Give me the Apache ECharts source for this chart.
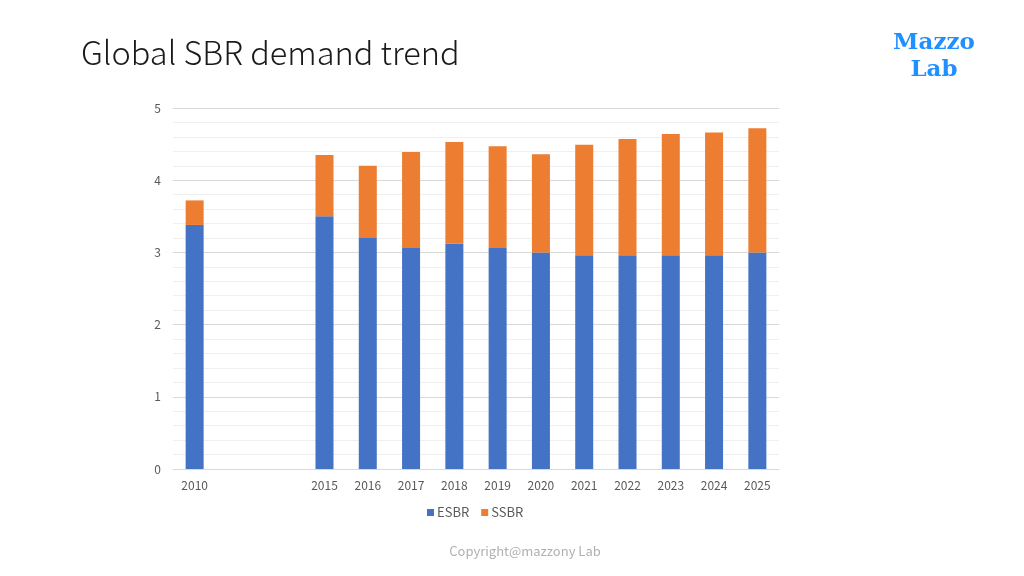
<!DOCTYPE html>
<html>
<head>
<meta charset="utf-8">
<script src="https://cdn.jsdelivr.net/npm/echarts@6/dist/echarts.min.js"></script>
<style>
  html, body { margin: 0; padding: 0; background: #fff; }
  #chart { width: 1024px; height: 576px; }
</style>
</head>
<body>
<div id="chart"></div>
<script>
// years on the axis, two empty slots between 2010 and 2015
var years = ['2010', ' ', '  ', '2015', '2016', '2017', '2018', '2019', '2020', '2021', '2022', '2023', '2024', '2025'];
var esbr = [3.38, null, null, 3.50, 3.20, 3.06, 3.12, 3.06, 3.00, 2.96, 2.96, 2.96, 2.96, 3.00];
var ssbr = [0.34, null, null, 0.85, 1.00, 1.33, 1.41, 1.41, 1.36, 1.53, 1.61, 1.68, 1.70, 1.72];

var chart = echarts.init(document.getElementById('chart'));
var font = '"Noto Sans CJK JP", "Noto Sans", sans-serif';

var option = {
  backgroundColor: '#fff',
  animation: false,
  title: [
    {
      text: 'Global SBR demand trend',
      left: 76, top: 31,
      textStyle: { fontFamily: font, fontSize: 32.5, fontWeight: 300, color: '#1a1a1a' }
    },
    {
      text: 'Mazzo\nLab',
      left: 929, top: 25, textAlign: 'center',
      textStyle: { fontFamily: '"DejaVu Serif", serif', fontSize: 23, fontWeight: 'bold', color: '#1e90ff', lineHeight: 27 }
    },
    {
      text: 'Copyright@mazzony Lab',
      left: 520, top: 540, textAlign: 'center',
      textStyle: { fontFamily: font, fontSize: 13, fontWeight: 'normal', color: '#b0b0b0' }
    }
  ],
  legend: {
    data: ['ESBR', 'SSBR'],
    top: 501, left: 422,
    itemWidth: 7, itemHeight: 7, itemGap: 12,
    icon: 'rect',
    textStyle: { fontFamily: font, fontSize: 13, color: '#595959', padding: [0, 0, 0, -2] }
  },
  grid: { left: 173, right: 245, top: 108, bottom: 107 },
  xAxis: {
    type: 'category',
    data: years,
    axisLine: { lineStyle: { color: '#d9d9d9' } },
    axisTick: { show: false },
    axisLabel: { fontFamily: font, fontSize: 12, color: '#595959', margin: 10, interval: 0 }
  },
  yAxis: {
    type: 'value',
    min: 0, max: 5, interval: 1,
    axisLine: { show: false },
    axisTick: { show: false },
    axisLabel: { fontFamily: font, fontSize: 12, color: '#595959', margin: 12 },
    splitLine: { lineStyle: { color: '#d9d9d9' } },
    minorTick: { show: false, splitNumber: 5 },
    minorSplitLine: { show: true, lineStyle: { color: '#efefef' } }
  },
  series: [
    {
      name: 'ESBR', type: 'bar', stack: 'total', data: esbr,
      barWidth: 18,
      itemStyle: { color: '#4472c4' }
    },
    {
      name: 'SSBR', type: 'bar', stack: 'total', data: ssbr,
      barWidth: 18,
      itemStyle: { color: '#ed7d31' }
    }
  ]
};

chart.setOption(option);
</script>
</body>
</html>
